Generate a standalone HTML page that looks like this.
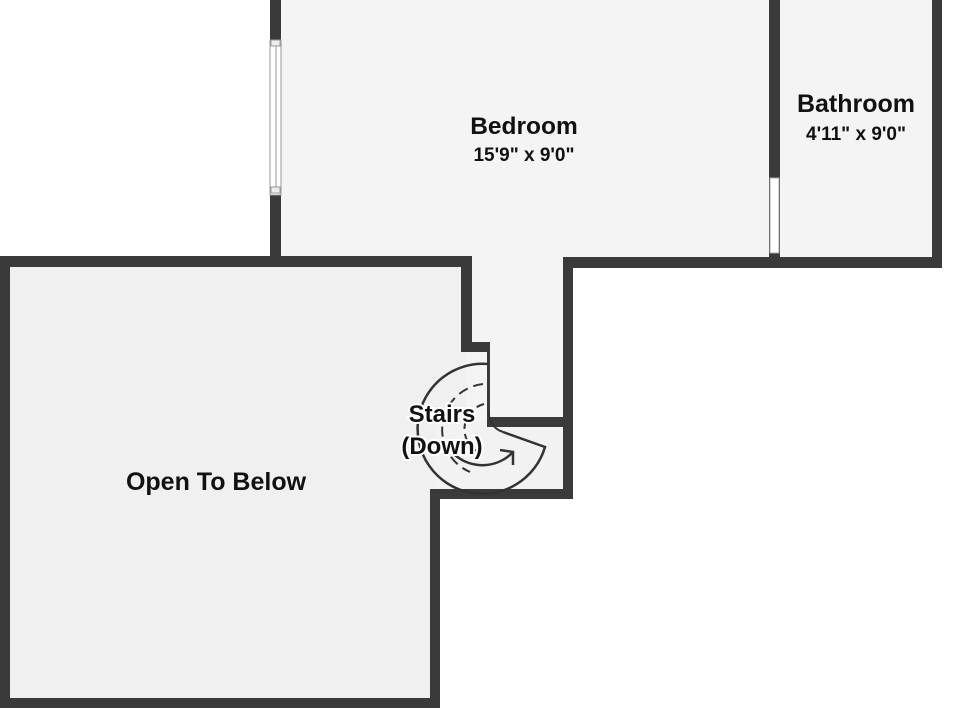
<!DOCTYPE html>
<html><head><style>
body{margin:0;background:#fff;}
svg{display:block}
text{font-family:"Liberation Sans","DejaVu Sans",sans-serif;font-weight:bold;fill:#111;text-anchor:middle}
</style></head><body>
<svg width="960" height="720" viewBox="0 0 960 720">
<!-- floors -->
<path d="M5 262 H466 V347 H490 V494 H435 V703 H5 Z" fill="#f0f0f0"/>
<rect x="276" y="0" width="661" height="262" fill="#f4f4f4"/>
<rect x="466" y="262" width="102" height="160" fill="#f4f4f4"/>
<rect x="435" y="422" width="133" height="72" fill="#f2f2f2"/>
<g fill="#3a3a3a">
<rect x="270" y="0" width="11" height="267"/>
<rect x="769" y="0" width="11" height="268"/>
<rect x="932" y="0" width="10" height="268"/>
<rect x="0" y="256" width="472" height="11"/>
<rect x="563" y="257" width="379" height="11"/>
<rect x="461" y="256" width="11" height="96"/>
<rect x="461" y="342" width="29" height="10"/>
<rect x="487" y="342" width="3" height="85"/>
<rect x="487" y="417" width="86" height="10"/>
<rect x="563" y="257" width="10" height="242"/>
<rect x="430" y="489" width="143" height="10"/>
<rect x="430" y="489" width="10" height="219"/>
<rect x="0" y="256" width="10" height="452"/>
<rect x="0" y="698" width="440" height="10"/>
</g>
<!-- window -->
<rect x="270" y="40" width="11" height="155" fill="#fff" stroke="#999" stroke-width="1"/>
<line x1="276" y1="42" x2="276" y2="193" stroke="#999" stroke-width="1"/>
<rect x="271" y="40" width="9" height="6" fill="#eee" stroke="#999"/>
<rect x="271" y="187" width="9" height="6" fill="#eee" stroke="#999"/>
<!-- bathroom door -->
<rect x="770" y="178" width="9" height="75" fill="#fff" stroke="#aaa" stroke-width="1"/>
<!-- stairs -->
<g fill="none" stroke="#333" stroke-width="2.5">
<path d="M488 364 A65 65 0 1 0 545 447 L503 432"/>
<path d="M489 410 A20 20 0 0 0 503 432" stroke-width="2"/>
<path d="M483 384 A46 46 0 0 0 470 472" stroke-dasharray="10 6" stroke-width="2"/>
<path d="M484 404 A26 26 0 0 0 478 452" stroke-dasharray="8 5" stroke-width="2"/>
<path d="M455 455 A42 42 0 0 0 513 452"/>
<path d="M500 450 L513 452 L513 465"/>
</g>
<!-- labels -->
<text x="524" y="134" font-size="24.5">Bedroom</text>
<text x="524" y="161" font-size="19">15'9" x 9'0"</text>
<text x="856" y="112" font-size="25">Bathroom</text>
<text x="856" y="140" font-size="19">4'11" x 9'0"</text>
<g stroke="#fff" stroke-width="4" paint-order="stroke">
<text x="442" y="422" font-size="24">Stairs</text>
<text x="442" y="454" font-size="24">(Down)</text>
</g>
<text x="216" y="490" font-size="25">Open To Below</text>
</svg>
</body></html>
